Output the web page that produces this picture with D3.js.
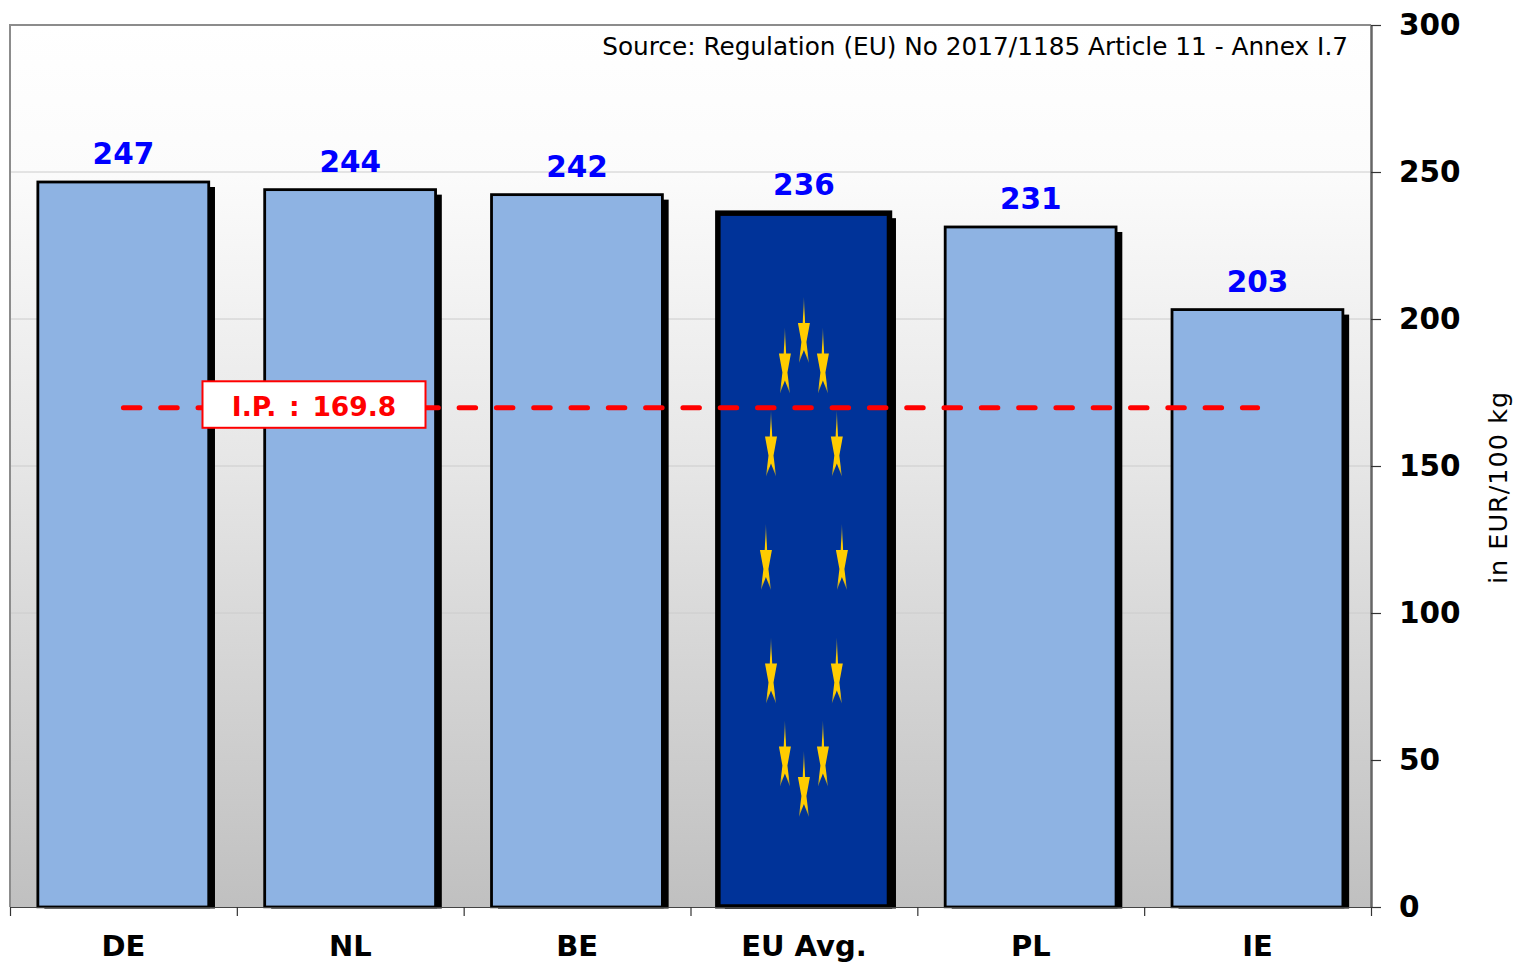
<!DOCTYPE html>
<html>
<head>
<meta charset="utf-8">
<script src="https://cdn.jsdelivr.net/npm/d3@7"></script>
<style>
  html, body { margin: 0; padding: 0; background: #fff; }
  svg { display: block; }
  text { font-family: "DejaVu Sans", sans-serif; }
</style>
</head>
<body>
<div id="chart"></div>
<script>
const categories = ['DE', 'NL', 'BE', 'EU Avg.', 'PL', 'IE'];
const prices = [246.6, 244.0, 242.3, 236.0, 231.3, 203.2];
const yTicks = [0, 50, 100, 150, 200, 250, 300];
const interventionPrice = 169.8;
const interventionLabel = 'I.P. : 169.8';
const sourceNote = 'Source: Regulation (EU) No 2017/1185 Article 11 - Annex I.7';
const yTitle = 'in EUR/100 kg';
const avgCategory = 'EU Avg.';

const width = 1515,
    height = 962,
    plot = {left: 10, right: 1371, top: 25, bottom: 907};

let svg = d3.select('#chart').append('svg')
    .attr('width', width)
    .attr('height', height);

let x = d3.scaleBand()
    .domain(categories)
    .range([plot.left, plot.right])
    .paddingInner(0.25)
    .paddingOuter(0.125);

let y = d3.scaleLinear()
    .domain([0, 300])
    .range([plot.bottom, plot.top]);

let defs = svg.append('defs');

let bgGrad = defs.append('linearGradient')
    .attr('id', 'plot-bg')
    .attr('x1', 0).attr('y1', 0)
    .attr('x2', 0).attr('y2', 1);
bgGrad.append('stop').attr('offset', '0%').attr('stop-color', '#ffffff');
bgGrad.append('stop').attr('offset', '17%').attr('stop-color', '#fbfbfb');
bgGrad.append('stop').attr('offset', '50%').attr('stop-color', '#e6e6e6');
bgGrad.append('stop').attr('offset', '100%').attr('stop-color', '#c0c0c0');

defs.append('clipPath')
    .attr('id', 'plot-clip')
    .append('rect')
    .attr('x', plot.left)
    .attr('y', plot.top)
    .attr('width', plot.right - plot.left)
    .attr('height', plot.bottom - plot.top + 1.5);

// star fades out towards its tips
let starGrad = defs.append('linearGradient')
    .attr('id', 'star-fill')
    .attr('x1', 0).attr('y1', 0)
    .attr('x2', 0).attr('y2', 1);
starGrad.append('stop').attr('offset', '0%').attr('stop-color', '#ffcc00').attr('stop-opacity', 0.4);
starGrad.append('stop').attr('offset', '30%').attr('stop-color', '#ffcc00');
starGrad.append('stop').attr('offset', '85%').attr('stop-color', '#ffcc00');
starGrad.append('stop').attr('offset', '100%').attr('stop-color', '#ffcc00').attr('stop-opacity', 0.5);

svg.append('rect')
    .attr('x', plot.left)
    .attr('y', plot.top)
    .attr('width', plot.right - plot.left)
    .attr('height', plot.bottom - plot.top)
    .attr('fill', 'url(#plot-bg)');

svg.append('g')
    .selectAll('line')
    .data(yTicks.filter(d => d > 0 && d < 300))
    .join('line')
    .attr('x1', plot.left)
    .attr('x2', plot.right)
    .attr('y1', d => y(d))
    .attr('y2', d => y(d))
    .attr('stroke', '#cccccc')
    .attr('stroke-width', 1);

// frame: top and left are lighter than the right one
svg.append('path')
    .attr('d', d3.line()([[plot.left, plot.bottom], [plot.left, plot.top], [plot.right, plot.top]]))
    .attr('fill', 'none')
    .attr('stroke', '#8c8c8c')
    .attr('stroke-width', 2);

let bars_g = svg.append('g').attr('clip-path', 'url(#plot-clip)');

let data = categories.map((c, i) => ({name: c, value: prices[i]}));

// the average bar is drawn a little fatter than the others
let barGrow = d => d.name === avgCategory ? 1 : 0.5;

bars_g.selectAll('.shadow')
    .data(data)
    .join('rect')
    .attr('class', 'shadow')
    .attr('x', d => x(d.name) + 6)
    .attr('y', d => y(d.value) + 5)
    .attr('width', d => x.bandwidth() + barGrow(d))
    .attr('height', d => plot.bottom - y(d.value))
    .attr('fill', '#000');

bars_g.selectAll('.bar')
    .data(data)
    .join('rect')
    .attr('class', 'bar')
    .attr('x', d => x(d.name) - barGrow(d))
    .attr('y', d => y(d.value))
    .attr('width', d => x.bandwidth() + barGrow(d) * 1.5)
    .attr('height', d => plot.bottom - y(d.value))
    .attr('fill', d => d.name === avgCategory ? '#003399' : '#8eb3e3')
    .attr('stroke', '#000')
    .attr('stroke-width', d => d.name === avgCategory ? 5.5 : 2.8);

// 12 stars of the flag, on an ellipse inside the average bar
let avgCenter = x(avgCategory) + x.bandwidth() / 2,
    ringCenter = 557,
    ringRx = 38,
    ringRy = 227;

let starPath = 'M0,-33 L1.2,-7 L6,-7 L2.5,12 L5,33 L0,20 L-5,33 L-2.5,12 L-6,-7 L-1.2,-7 Z';

svg.append('g')
    .selectAll('path')
    .data(d3.range(12))
    .join('path')
    .attr('transform', d => {
        let a = d / 12 * 2 * Math.PI;
        return `translate(${avgCenter + ringRx * Math.sin(a)}, ${ringCenter - ringRy * Math.cos(a)})`;
    })
    .attr('d', starPath)
    .attr('fill', 'url(#star-fill)');

svg.append('line')
    .attr('x1', x(categories[0]) + x.bandwidth() / 2)
    .attr('x2', x(categories[5]) + x.bandwidth() / 2)
    .attr('y1', y(interventionPrice))
    .attr('y2', y(interventionPrice))
    .attr('stroke', '#ff0000')
    .attr('stroke-width', 5)
    .attr('stroke-linecap', 'round')
    .attr('stroke-dasharray', '16.5 20.8');

svg.append('rect')
    .attr('x', 202.5)
    .attr('y', y(interventionPrice) - 26.5)
    .attr('width', 223)
    .attr('height', 46.5)
    .attr('fill', '#fff')
    .attr('stroke', '#ff0000')
    .attr('stroke-width', 2);

svg.append('text')
    .attr('x', 314)
    .attr('y', y(interventionPrice) + 8)
    .attr('text-anchor', 'middle')
    .attr('font-size', 26.5)
    .attr('font-weight', 'bold')
    .attr('word-spacing', 3.5)
    .attr('fill', '#ff0000')
    .text(interventionLabel);

svg.append('g')
    .selectAll('text')
    .data(data)
    .join('text')
    .attr('x', d => x(d.name) + x.bandwidth() / 2)
    .attr('y', d => y(d.value) - 18)
    .attr('text-anchor', 'middle')
    .attr('font-size', 29.5)
    .attr('font-weight', 'bold')
    .attr('fill', '#0000ff')
    .text(d => d3.format('.0f')(d.value));

// right axis
let yAxis_g = svg.append('g')
    .attr('transform', `translate(${plot.right}, 0)`)
    .call(d3.axisRight(y).tickValues(yTicks).tickSize(10).tickPadding(18).tickSizeOuter(0));
yAxis_g.select('.domain').attr('stroke', '#666').attr('stroke-width', 2.5);
yAxis_g.selectAll('.tick line').attr('stroke', '#333').attr('stroke-width', 1.2);
yAxis_g.selectAll('text')
    .attr('font-size', 29.5)
    .attr('font-family', '"DejaVu Sans", sans-serif')
    .attr('font-weight', 'bold')
    .attr('fill', '#000');

// bottom axis: labels in the band centres, ticks on the band edges
let xAxis_g = svg.append('g')
    .attr('transform', `translate(0, ${plot.bottom})`)
    .call(d3.axisBottom(x).tickSize(0).tickPadding(28));
xAxis_g.select('.domain').remove();
xAxis_g.selectAll('text')
    .attr('font-size', 29)
    .attr('font-family', '"DejaVu Sans", sans-serif')
    .attr('font-weight', 'bold')
    .attr('fill', '#000');

let edges = d3.scaleLinear().domain([0, categories.length]).range([plot.left, plot.right]);
let edgeAxis_g = svg.append('g')
    .attr('transform', `translate(0, ${plot.bottom})`)
    .call(d3.axisBottom(edges).tickValues(d3.range(categories.length + 1)).tickSize(9).tickFormat('').tickSizeOuter(0));
edgeAxis_g.select('.domain').attr('stroke', '#444').attr('stroke-width', 1.2);
edgeAxis_g.selectAll('.tick line').attr('stroke', '#333').attr('stroke-width', 1.2);

svg.append('text')
    .attr('x', 1348)
    .attr('y', 55)
    .attr('text-anchor', 'end')
    .attr('font-size', 24.75)
    .attr('fill', '#000')
    .text(sourceNote);

svg.append('text')
    .attr('transform', 'translate(1507, 487.5) rotate(-90)')
    .attr('text-anchor', 'middle')
    .attr('font-size', 25.5)
    .attr('letter-spacing', 1)
    .attr('fill', '#000')
    .text(yTitle);
</script>
</body>
</html>
